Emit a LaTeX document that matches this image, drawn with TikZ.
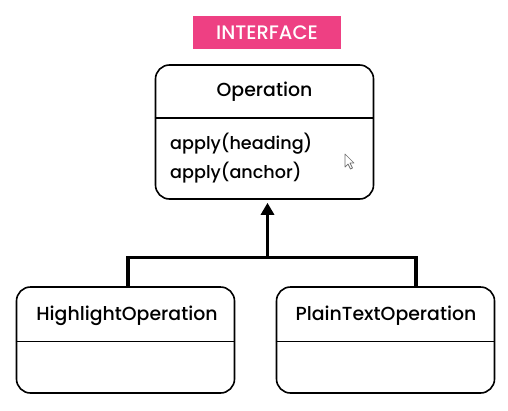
\documentclass[tikz,border=0pt]{standalone}
\usepackage{fontspec}
\setmainfont{Poppins}[UprightFont={* Medium}]
\usetikzlibrary{arrows.meta,positioning,calc}
\definecolor{ifpink}{RGB}{238,64,131}
\definecolor{cursorgray}{RGB}{110,110,110}
\tikzset{
  clsbox/.style={
    draw=black, line width=1.6pt, rounded corners=14pt,
    minimum width=218pt, inner sep=0pt
  },
  clsname/.style={font=\fontsize{18.9}{22}\selectfont, inner sep=0pt},
  method/.style={font=\fontsize{17.6}{20}\selectfont, inner sep=0pt, anchor=west},
  divider/.style={draw=black, line width=1.6pt},
  tagbox/.style={
    fill=ifpink, text=white, font=\fontsize{19.5}{22}\selectfont,
    minimum width=148pt, minimum height=33pt, inner sep=0pt
  },
  conn/.style={draw=black, line width=3.6pt},
  inherit/.style={conn, -{Triangle[length=12pt,width=13pt]}}
}
\begin{document}
\begin{tikzpicture}[x=1pt,y=-1pt]
  \useasboundingbox (0,0) rectangle (508,410);
  % interface tag
  \node[tagbox] (tag) at (267,32.5) {INTERFACE};
  % interface class
  \node[clsbox, minimum height=134pt] (op) at (264.5,132) {};
  \node[clsname] (opname) at (264.5,92) {Operation};
  \draw[divider] (op.west |- 0,118) -- (op.east |- 0,118);
  \node[method] (m1) at (170,144) {apply(heading)};
  \node[method] (m2) at (170,173) {apply(anchor)};
  % mouse pointer
  \draw[cursorgray, fill=white, line width=0.7pt, line join=round]
    (345,154) -- (345,167) -- (348,164) -- (350.5,169) -- (352.5,168)
    -- (350,163) -- (354,163) -- cycle;
  % implementing classes
  \node[clsbox, minimum height=106pt] (hl) at (125.5,340) {};
  \node[clsname] (hlname) at (127,316) {HighlightOperation};
  \draw[divider] (hl.west |- 0,341.5) -- (hl.east |- 0,341.5);
  \node[clsbox, minimum height=106pt] (pt) at (385.5,340) {};
  \node[clsname] (ptname) at (386,316) {PlainTextOperation};
  \draw[divider] (pt.west |- 0,341.5) -- (pt.east |- 0,341.5);
  % inheritance
  \coordinate (jn) at (267.5,257.5);
  \coordinate (hltop) at (128,287);
  \coordinate (pttop) at (416,287);
  \draw[conn, line join=miter] (hltop) |- (jn) -| (pttop);
  \draw[inherit] (jn) -- ([yshift=-3pt]op.south -| jn);
\end{tikzpicture}
\end{document}
